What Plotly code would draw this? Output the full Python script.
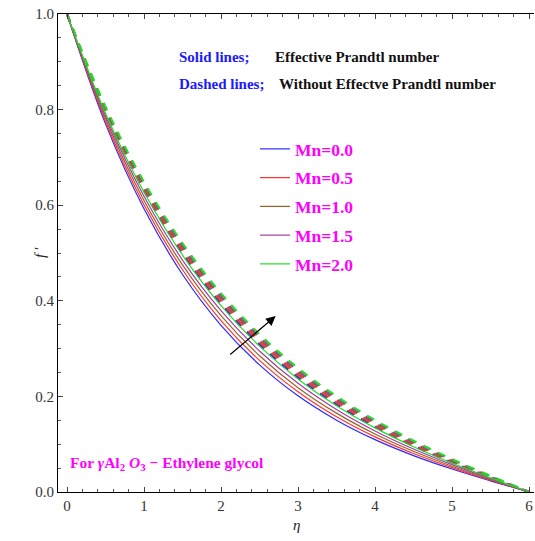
import plotly.graph_objects as go

# Similarity coordinate eta and velocity profiles f'(eta)
eta = [0.0, 0.5, 1.0, 1.5, 2.0, 2.5, 3.0, 3.5, 4.0, 4.5, 5.0, 5.5, 6.0]

mn_labels = ["Mn=0.0", "Mn=0.5", "Mn=1.0", "Mn=1.5", "Mn=2.0"]
colors = ["#2a2aff", "#ff3333", "#a0602a", "#a040a0", "#22dd22"]

# Solid lines: effective Prandtl number
fp_eff_00 = [1.0, 0.7701, 0.5924, 0.4550, 0.3487, 0.2659, 0.2012, 0.1503, 0.1095, 0.0762, 0.0481, 0.0233, 0.0]
fp_eff_05 = [1.0, 0.7757, 0.6010, 0.4650, 0.3586, 0.2753, 0.2097, 0.1574, 0.1154, 0.0806, 0.0511, 0.0247, 0.0]
fp_eff_10 = [1.0, 0.7813, 0.6097, 0.4750, 0.3689, 0.2851, 0.2183, 0.1650, 0.1214, 0.0852, 0.0540, 0.0262, 0.0]
fp_eff_15 = [1.0, 0.7870, 0.6186, 0.4852, 0.3793, 0.2950, 0.2273, 0.1726, 0.1277, 0.0899, 0.0572, 0.0278, 0.0]
fp_eff_20 = [1.0, 0.7926, 0.6275, 0.4956, 0.3900, 0.3052, 0.2366, 0.1806, 0.1341, 0.0948, 0.0606, 0.0295, 0.0]

# Dashed lines: without effective Prandtl number
fp_no_00 = [1.0, 0.7945, 0.6304, 0.4990, 0.3936, 0.3087, 0.2398, 0.1833, 0.1363, 0.0965, 0.0617, 0.0301, 0.0]
fp_no_05 = [1.0, 0.7974, 0.6349, 0.5043, 0.3991, 0.3140, 0.2446, 0.1875, 0.1397, 0.0991, 0.0634, 0.0310, 0.0]
fp_no_10 = [1.0, 0.8002, 0.6394, 0.5096, 0.4046, 0.3192, 0.2493, 0.1916, 0.1431, 0.1017, 0.0651, 0.0318, 0.0]
fp_no_15 = [1.0, 0.8031, 0.6440, 0.5150, 0.4101, 0.3246, 0.2543, 0.1959, 0.1467, 0.1044, 0.0670, 0.0328, 0.0]
fp_no_20 = [1.0, 0.8060, 0.6485, 0.5203, 0.4156, 0.3300, 0.2592, 0.2002, 0.1502, 0.1071, 0.0688, 0.0337, 0.0]

solid_sets = [fp_eff_00, fp_eff_05, fp_eff_10, fp_eff_15, fp_eff_20]
dashed_sets = [fp_no_00, fp_no_05, fp_no_10, fp_no_15, fp_no_20]

x_ticks = [0, 1, 2, 3, 4, 5, 6]
y_ticks = [0.0, 0.2, 0.4, 0.6, 0.8, 1.0]

SERIF = "Liberation Serif, Times New Roman, serif"
MAGENTA = "#ff00ff"
BLUE = "#1a1aff"

fig = go.Figure()

for ys, c in zip(dashed_sets, colors):
    fig.add_trace(go.Scatter(
        x=eta, y=ys, mode="lines", showlegend=False,
        line=dict(color=c, width=2.2, dash="8px,8px", shape="spline", smoothing=1.0),
        hoverinfo="skip",
    ))

for ys, c, name in zip(solid_sets, colors, mn_labels):
    fig.add_trace(go.Scatter(
        x=eta, y=ys, mode="lines", name=name, legendgroup=name,
        line=dict(color=c, width=1.2, shape="spline", smoothing=1.0),
    ))

axis_common = dict(
    showline=True, linecolor="#000", linewidth=1.2,
    ticks="inside", tickcolor="#444", ticklen=5, tickwidth=1,
    showgrid=False, zeroline=False,
    tickfont=dict(family=SERIF, size=15, color="#333"),
)

fig.update_xaxes(
    range=[-0.117, 6.065], tickvals=x_ticks, ticktext=[str(v) for v in x_ticks],
    mirror="ticks",
    minor=dict(ticks="inside", ticklen=3, tickcolor="#555", dtick=0.2, tick0=0),
    **axis_common,
)
fig.update_yaxes(
    range=[0, 1.0], tickvals=y_ticks, ticktext=[f"{v:.1f}" for v in y_ticks],
    minor=dict(ticks="inside", ticklen=3, tickcolor="#555", dtick=0.05, tick0=0),
    **axis_common,
)

annotations = [
    dict(x=1.43, y=0.910, text="<b>Solid lines;</b>", font=dict(color=BLUE, size=15)),
    dict(x=2.675, y=0.910, text="<b>Effective Prandtl number</b>", font=dict(color="#111", size=15)),
    dict(x=1.43, y=0.854, text="<b>Dashed lines;</b>", font=dict(color=BLUE, size=15)),
    dict(x=2.727, y=0.854, text="<b>Without Effectve Prandtl number</b>", font=dict(color="#111", size=15)),
    dict(x=0.013, y=0.0586,
         text="<b>For <i>γ</i>Al<sub>2</sub> <i>O</i><sub>3</sub> − Ethylene glycol</b>",
         font=dict(color=MAGENTA, size=15.5)),
]
for a in annotations:
    a.update(xref="x", yref="y", xanchor="left", yanchor="middle", showarrow=False)
    a["font"]["family"] = SERIF

# Arrow marking increasing Mn
annotations.append(dict(
    x=2.71, y=0.368, ax=2.10, ay=0.285, xref="x", yref="y", axref="x", ayref="y",
    showarrow=True, arrowhead=2, arrowsize=1.6, arrowwidth=1.2, arrowcolor="#000", text="",
))

# Axis labels
annotations.append(dict(
    x=0, y=0.5, xref="paper", yref="paper", xshift=-28, showarrow=False,
    text="<i>f</i> ′", textangle=-90, font=dict(family=SERIF, size=15, color="#222"),
))
annotations.append(dict(
    x=0.5, y=0, xref="paper", yref="paper", yshift=-33, yanchor="middle", showarrow=False,
    text="<i>η</i>", font=dict(family=SERIF, size=15, color="#222"),
))

fig.update_layout(
    width=535, height=541,
    margin=dict(l=58, r=1, t=14, b=49),
    paper_bgcolor="white", plot_bgcolor="white",
    annotations=annotations,
    legend=dict(
        x=(255 - 58) / 476, y=(492 - 131) / 478, xanchor="left", yanchor="top",
        bgcolor="rgba(0,0,0,0)", tracegroupgap=3, itemwidth=30,
        font=dict(family=SERIF, size=17.5, color=MAGENTA, weight="bold"),
    ),
)

fig.write_html("out.html")
